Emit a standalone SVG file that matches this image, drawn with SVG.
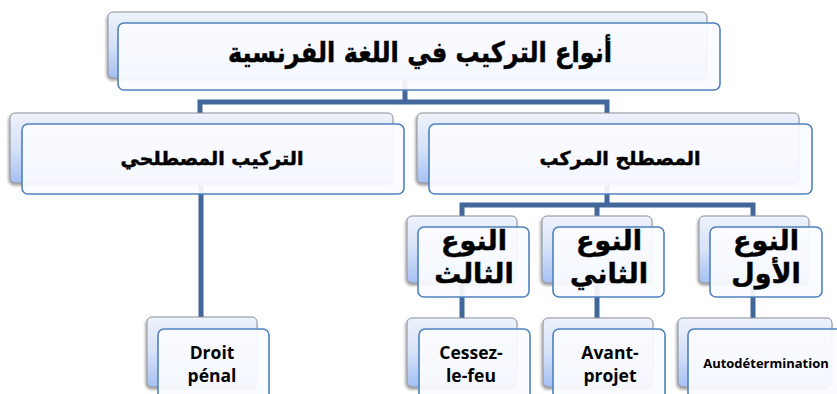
<svg xmlns="http://www.w3.org/2000/svg" width="837" height="394" viewBox="0 0 837 394">
<defs>
<linearGradient id="gBack" x1="0" y1="0" x2="0" y2="1">
<stop offset="0" stop-color="#eef2fb"/>
<stop offset="0.5" stop-color="#d6e2f9"/>
<stop offset="1" stop-color="#a5c0f2"/>
</linearGradient>
<filter id="sh" x="-10%" y="-10%" width="120%" height="130%">
<feGaussianBlur in="SourceAlpha" stdDeviation="1.5"/>
<feOffset dx="-1" dy="2" result="b"/>
<feComponentTransfer><feFuncA type="linear" slope="0.4"/></feComponentTransfer>
<feMerge><feMergeNode/><feMergeNode in="SourceGraphic"/></feMerge>
</filter>
</defs>
<style>
.back{fill:url(#gBack);stroke:#8a8f99;stroke-width:1;filter:url(#sh)}
.front{fill:#fbfcff;fill-opacity:0.92;stroke:#4f81bd;stroke-width:1.6}
.conn{fill:none;stroke:#41679b;stroke-width:5;stroke-linejoin:miter}
.ar{font-family:"DejaVu Sans","Liberation Sans",sans-serif;font-weight:bold;fill:#000;stroke:#000;stroke-width:0.5;text-anchor:middle}
.lat{font-family:"Open Sans",Lato,"Liberation Sans",sans-serif;font-weight:bold;fill:#000;text-anchor:middle}
</style>
<rect width="837" height="394" fill="#ffffff"/>
<g id="connectors">
<path class="conn" d="M405,80 V102"/>
<path class="conn" d="M200,116 V102 H607 V116"/>
<path class="conn" d="M201,185 V320"/>
<path class="conn" d="M607,185 V205"/>
<path class="conn" d="M462,218 V205 H753 V218"/>
<path class="conn" d="M597,205 V218"/>
<path class="conn" d="M462,285 V320"/>
<path class="conn" d="M597,285 V320"/>
<path class="conn" d="M753,285 V320"/>
</g>
<g id="node-root">
<rect class="back" x="108" y="12" width="599" height="66" rx="5"/>
<rect class="front" x="118" y="23" width="602" height="67" rx="6"/>
<text class="ar" x="420" y="62" font-size="28" textLength="384" lengthAdjust="spacingAndGlyphs">أنواع التركيب في اللغة الفرنسية</text>
</g>
<g id="node-terminological">
<rect class="back" x="10" y="113" width="383" height="70" rx="5"/>
<rect class="front" x="22" y="124" width="382" height="70" rx="6"/>
<text class="ar" x="212" y="165" font-size="19">التركيب المصطلحي</text>
</g>
<g id="node-compound">
<rect class="back" x="417" y="113" width="382" height="70" rx="5"/>
<rect class="front" x="429" y="124" width="383" height="70" rx="6"/>
<text class="ar" x="620" y="165" font-size="19">المصطلح المركب</text>
</g>
<g id="node-type3">
<rect class="back" x="407" y="216" width="110" height="67" rx="5"/>
<rect class="front" x="418" y="227" width="111" height="70" rx="6"/>
<text class="ar" x="474" y="250" font-size="27">النوع</text>
<text class="ar" x="474" y="283" font-size="27">الثالث</text>
</g>
<g id="node-type2">
<rect class="back" x="542" y="216" width="110" height="67" rx="5"/>
<rect class="front" x="553" y="227" width="111" height="70" rx="6"/>
<text class="ar" x="609" y="250" font-size="27">النوع</text>
<text class="ar" x="609" y="283" font-size="27">الثاني</text>
</g>
<g id="node-type1">
<rect class="back" x="699" y="216" width="110" height="67" rx="5"/>
<rect class="front" x="710" y="227" width="112" height="70" rx="6"/>
<text class="ar" x="766" y="250" font-size="27">النوع</text>
<text class="ar" x="766" y="283" font-size="27">الأول</text>
</g>
<g id="node-droit">
<rect class="back" x="147" y="317" width="110" height="70" rx="5"/>
<rect class="front" x="158" y="329" width="111" height="75" rx="6"/>
<text class="lat" x="212" y="359" font-size="17.5">Droit</text>
<text class="lat" x="212" y="382" font-size="17.5">pénal</text>
</g>
<g id="node-cessez">
<rect class="back" x="407" y="318" width="110" height="69" rx="5"/>
<rect class="front" x="419" y="329" width="111" height="75" rx="6"/>
<text class="lat" x="471" y="359" font-size="17.5">Cessez-</text>
<text class="lat" x="471" y="382" font-size="17.5">le-feu</text>
</g>
<g id="node-avant">
<rect class="back" x="543" y="318" width="110" height="69" rx="5"/>
<rect class="front" x="553" y="329" width="112" height="75" rx="6"/>
<text class="lat" x="610" y="359" font-size="17.5">Avant-</text>
<text class="lat" x="610" y="382" font-size="17.5">projet</text>
</g>
<g id="node-auto">
<rect class="back" x="678" y="318" width="154" height="69" rx="5"/>
<rect class="front" x="688" y="329" width="160" height="75" rx="6"/>
<text class="lat" x="766" y="368" font-size="13">Autodétermination</text>
</g>
</svg>
